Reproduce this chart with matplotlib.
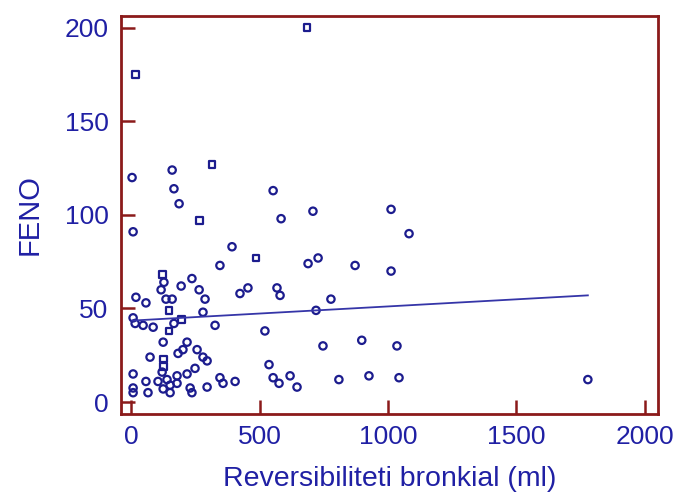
import numpy as np
import matplotlib
matplotlib.use("Agg")
import matplotlib.pyplot as plt

# data (FENO vs bronchial reversibility)
circle_x = [4, 160, 167, 187, 8, 553, 584, 708, 1012, 1082, 393, 346, 728, 689, 872,
            1012, 455, 424, 568, 580, 778, 720, 521, 747, 898, 1035, 926, 1043, 809,
            537, 553, 576, 619, 646, 1778,
            128, 117, 195, 237, 265, 288, 19, 58, 136, 160, 280, 8, 16, 47, 86, 167,
            327, 125, 218, 202, 183, 257, 280, 296, 74, 249, 8, 121, 179, 218, 140,
            105, 58, 152, 179, 8, 8, 66, 125, 152, 230, 237, 296, 346, 358, 405]
circle_y = [120, 124, 114, 106, 91, 113, 98, 102, 103, 90, 83, 73, 77, 74, 73,
            70, 61, 58, 61, 57, 55, 49, 38, 30, 33, 30, 14, 13, 12,
            20, 13, 10, 14, 8, 12,
            64, 60, 62, 66, 60, 55, 56, 53, 55, 55, 48, 45, 42, 41, 40, 42,
            41, 32, 32, 28, 26, 28, 24, 22, 24, 18, 15, 16, 14, 15, 12,
            11, 11, 9, 10, 7.5, 5, 5, 7, 5, 7.5, 5, 8, 13, 10, 11]
square_x = [685, 16, 268, 315, 486, 121, 148, 195, 148, 125, 125]
square_y = [200, 175, 97, 127, 77, 68, 49, 44, 38, 23, 19]

# regression line
fit_intercept = 43.5
fit_slope = 0.0076

navy = "#1c1c8e"
spine_red = "#8b1a1a"
text_blue = "#2020a4"
font = ["Liberation Sans", "DejaVu Sans"]

fig = plt.figure(figsize=(6.78, 4.97), dpi=100)
ax = fig.add_axes([0.1785, 0.167, 0.792, 0.801])

ax.scatter(circle_x, circle_y, s=28, marker="o", facecolors="none",
           edgecolors=navy, linewidths=1.6)
ax.scatter(square_x, square_y, s=24, marker="s", facecolors="none",
           edgecolors=navy, linewidths=1.6)

all_x = np.array(circle_x + square_x, dtype=float)
line_x = np.array([all_x.min(), all_x.max()])
ax.plot(line_x, fit_intercept + fit_slope * line_x, color="#3535a8", lw=1.3)

ax.set_xlim(-39, 2051)
ax.set_ylim(-6.4, 206.4)
ax.set_xticks([0, 500, 1000, 1500, 2000])
ax.set_yticks([0, 50, 100, 150, 200])

for sp in ax.spines.values():
    sp.set_color(spine_red)
    sp.set_linewidth(2)
ax.tick_params(direction="in", length=10, width=1.8, color=spine_red,
               labelcolor=text_blue, labelsize=19)
ax.tick_params(axis="x", pad=8)
ax.tick_params(axis="y", pad=9)
for lab in ax.get_xticklabels() + ax.get_yticklabels():
    lab.set_family(font)

ax.set_xlabel("Reversibiliteti bronkial (ml)", fontsize=20.5, color=text_blue,
              family=font, labelpad=12)
ax.set_ylabel("FENO", fontsize=21, color=text_blue, family=font, labelpad=15)

fig.savefig("out.png", dpi=100)
